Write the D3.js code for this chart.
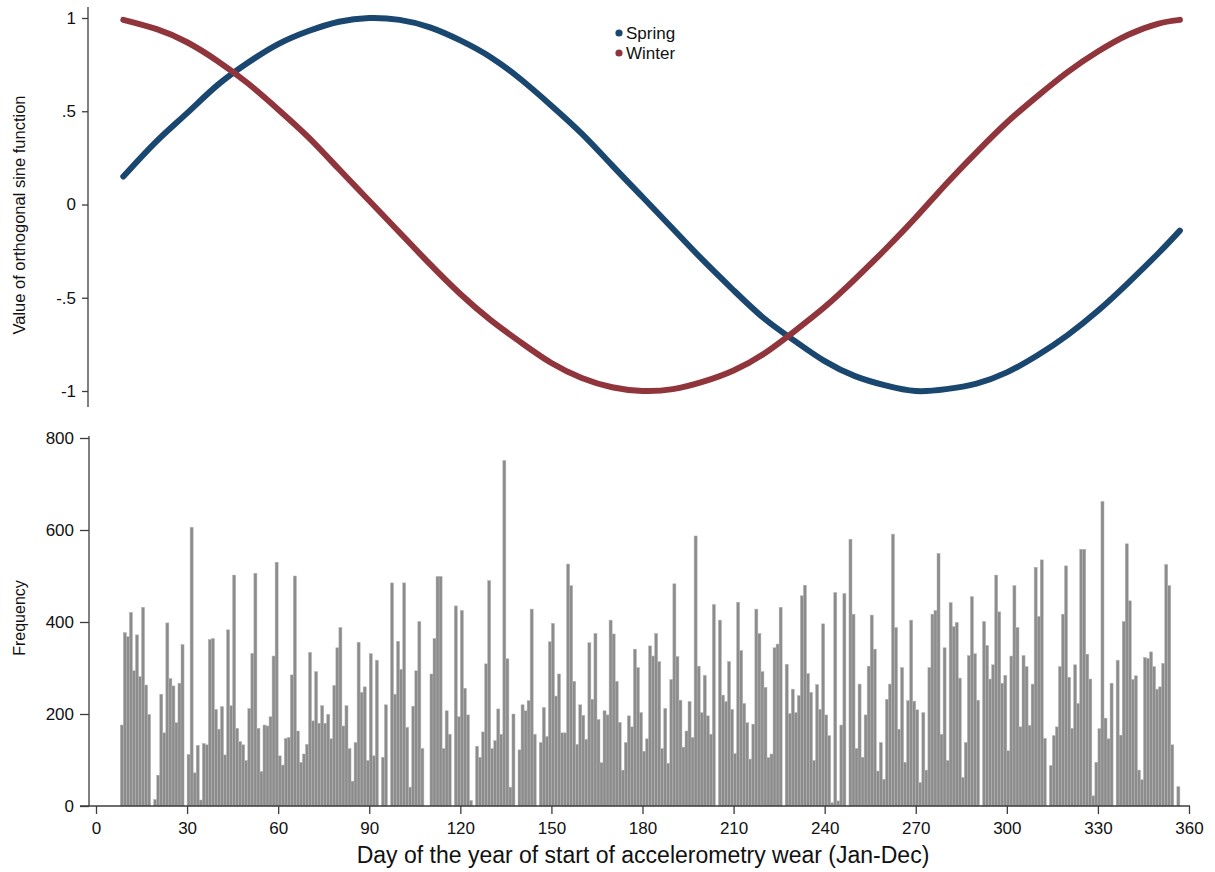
<!DOCTYPE html>
<html>
<head>
<meta charset="utf-8">
<script src="https://cdn.jsdelivr.net/npm/d3@7"></script>
<style>
    body { margin: 0; background: #fff; }
    text { font-family: 'Liberation Sans', Arial, sans-serif; }
</style>
</head>
<body>
<div id="vis"></div>
<script>
// first day that has a bar in the histogram
const firstDay = 8;

// number of accelerometer starts per day of year (days 8..356)
const dayCounts = [
    176, 377, 368, 421, 294, 372, 281, 432, 263, 199,
    0, 14, 67, 243, 159, 398, 277, 261, 181, 267,
    351, 0, 112, 606, 72, 132, 13, 136, 133, 362,
    364, 210, 167, 216, 111, 383, 218, 502, 169, 140,
    133, 99, 212, 332, 506, 169, 75, 176, 174, 194,
    326, 530, 109, 89, 147, 149, 285, 500, 163, 95,
    113, 134, 334, 185, 292, 180, 218, 180, 199, 146,
    262, 344, 388, 174, 218, 125, 54, 138, 356, 247,
    259, 99, 331, 109, 317, 0, 106, 220, 0, 485,
    243, 358, 297, 485, 171, 41, 217, 294, 401, 125,
    0, 0, 287, 364, 499, 499, 125, 207, 156, 0,
    435, 194, 425, 256, 198, 12, 0, 130, 106, 161,
    309, 490, 125, 142, 211, 156, 751, 320, 41, 200,
    0, 122, 220, 207, 229, 428, 156, 0, 138, 214,
    151, 357, 397, 239, 287, 159, 159, 526, 479, 271,
    134, 220, 197, 145, 355, 232, 375, 188, 94, 207,
    198, 404, 374, 271, 182, 78, 138, 196, 172, 341,
    301, 203, 119, 146, 348, 326, 375, 314, 125, 212,
    93, 275, 483, 325, 230, 128, 163, 227, 149, 587,
    304, 203, 284, 196, 156, 438, 0, 404, 241, 227,
    314, 210, 114, 443, 338, 223, 181, 102, 178, 428,
    375, 292, 258, 105, 113, 344, 352, 432, 0, 308,
    201, 254, 203, 240, 457, 480, 288, 247, 99, 264,
    210, 396, 198, 153, 7, 464, 11, 176, 462, 0,
    580, 417, 125, 265, 106, 198, 304, 415, 341, 76,
    138, 58, 232, 265, 591, 388, 167, 301, 95, 229,
    404, 228, 209, 51, 203, 78, 301, 417, 425, 549,
    156, 344, 99, 442, 390, 399, 278, 62, 138, 327,
    455, 331, 230, 0, 401, 349, 276, 307, 502, 422,
    267, 284, 120, 326, 479, 388, 172, 327, 303, 175,
    265, 519, 412, 535, 147, 0, 88, 153, 172, 303,
    417, 522, 280, 169, 307, 223, 558, 558, 330, 276,
    22, 95, 168, 662, 191, 146, 267, 0, 317, 154,
    401, 570, 446, 275, 283, 78, 57, 323, 321, 335,
    303, 254, 259, 310, 525, 479, 133, 0, 42
];

// orthogonal sine terms
const curveDays = [9, 20, 30, 40, 50, 60, 70, 80, 90, 100, 110, 120, 130, 140, 150, 160, 170, 180,
    190, 200, 210, 220, 230, 240, 250, 260, 270, 280, 290, 300, 310, 320, 330, 340, 350, 357];
const springValues = [0.15, 0.34, 0.49, 0.64, 0.76, 0.86, 0.93, 0.98, 1.0, 0.99, 0.95, 0.88, 0.79, 0.67,
    0.53, 0.38, 0.21, 0.04, -0.13, -0.30, -0.46, -0.61, -0.73, -0.84, -0.92, -0.97, -1.0, -0.99,
    -0.96, -0.90, -0.81, -0.70, -0.57, -0.42, -0.26, -0.14];
const winterValues = [0.99, 0.94, 0.87, 0.77, 0.65, 0.51, 0.36, 0.19, 0.02, -0.15, -0.32, -0.48, -0.62,
    -0.74, -0.85, -0.93, -0.98, -1.0, -0.99, -0.95, -0.89, -0.80, -0.68, -0.55, -0.40, -0.24, -0.07,
    0.11, 0.28, 0.44, 0.58, 0.71, 0.82, 0.91, 0.97, 0.99];

const seriesNames = ['Spring', 'Winter'];
const seriesColors = ['#1a476f', '#90353b'];

const xTicks = [0, 30, 60, 90, 120, 150, 180, 210, 240, 270, 300, 330, 360];
const sineTicks = [-1, -0.5, 0, 0.5, 1];
const sineTickLabels = ['-1', '-.5', '0', '.5', '1'];
const freqTicks = [0, 200, 400, 600, 800];

const width = 1215;
const height = 872;

const svg = d3.select('#vis')
    .append('svg')
    .attr('width', width)
    .attr('height', height);

const x = d3.scaleLinear().domain([0, 360]).range([96, 1189]);
const ySine = d3.scaleLinear().domain([-1, 1]).range([391, 18]);
const yFreq = d3.scaleLinear().domain([0, 800]).range([806, 438]);

renderSinePanel();
renderHistogram();

function renderSinePanel() {
    const g = svg.append('g');

    // y axis, line runs a bit past the ticks like in stata
    g.append('line')
        .attr('x1', 88).attr('x2', 88)
        .attr('y1', 7).attr('y2', 407)
        .attr('stroke', '#3c3c3c')
        .attr('stroke-width', 1.3);

    const axis = d3.axisLeft(ySine)
        .tickValues(sineTicks)
        .tickFormat((d, i) => sineTickLabels[i])
        .tickSize(6)
        .tickPadding(6);

    const ax = g.append('g')
        .attr('transform', 'translate(88,0)')
        .call(axis);
    styleAxis(ax);

    g.append('text')
        .attr('transform', 'translate(21,215) rotate(-90)')
        .attr('text-anchor', 'middle')
        .attr('dominant-baseline', 'middle')
        .attr('font-size', '16.5px')
        .attr('fill', '#111')
        .text('Value of orthogonal sine function');

    const values = [springValues, winterValues];
    for (var s = 0; s < seriesNames.length; s++) {
        const pts = curveDays.map((d, i) => [d, values[s][i]]);
        const line = d3.line()
            .x(p => x(p[0]))
            .y(p => ySine(p[1]))
            .curve(d3.curveNatural);

        g.append('path')
            .attr('d', line(pts))
            .attr('fill', 'none')
            .attr('stroke', seriesColors[s])
            .attr('stroke-width', 6)
            .attr('stroke-linecap', 'round');
    }

    // legend
    for (var i = 0; i < seriesNames.length; i++) {
        g.append('circle')
            .attr('cx', 619)
            .attr('cy', 33 + i * 20)
            .attr('r', 3.6)
            .attr('fill', seriesColors[i]);

        g.append('text')
            .attr('x', 626)
            .attr('y', 33 + i * 20)
            .attr('dominant-baseline', 'central')
            .attr('font-size', '17px')
            .attr('fill', '#111')
            .text(seriesNames[i]);
    }
}

function renderHistogram() {
    const g = svg.append('g');
    const bars = dayCounts.map((v, i) => ({ day: firstDay + i, count: v }));

    g.selectAll('rect.bar')
        .data(bars.filter(b => b.count > 0))
        .join('rect')
        .attr('class', 'bar')
        .attr('x', b => x(b.day))
        .attr('width', b => x(b.day + 1) - x(b.day))
        .attr('y', b => yFreq(b.count))
        .attr('height', b => yFreq(0) - yFreq(b.count))
        .attr('fill', '#8c8c8c')
        .attr('stroke', '#b4b4b4')
        .attr('stroke-width', 0.5);

    // y axis
    g.append('line')
        .attr('x1', 89).attr('x2', 89)
        .attr('y1', 436).attr('y2', 806)
        .attr('stroke', '#3c3c3c')
        .attr('stroke-width', 1.3);

    const yAxis = d3.axisLeft(yFreq)
        .tickValues(freqTicks)
        .tickSize(9)
        .tickPadding(6);
    const ay = g.append('g')
        .attr('transform', 'translate(89,0)')
        .call(yAxis);
    styleAxis(ay);

    // x axis
    g.append('line')
        .attr('x1', 80).attr('x2', 1190)
        .attr('y1', 806).attr('y2', 806)
        .attr('stroke', '#3c3c3c')
        .attr('stroke-width', 1.3);

    const xAxis = d3.axisBottom(x)
        .tickValues(xTicks)
        .tickSize(8)
        .tickPadding(8);
    const axx = g.append('g')
        .attr('transform', 'translate(0,806)')
        .call(xAxis);
    styleAxis(axx);

    g.append('text')
        .attr('transform', 'translate(21,618) rotate(-90)')
        .attr('text-anchor', 'middle')
        .attr('dominant-baseline', 'middle')
        .attr('font-size', '16px')
        .attr('fill', '#111')
        .text('Frequency');

    g.append('text')
        .attr('x', 643)
        .attr('y', 857)
        .attr('text-anchor', 'middle')
        .attr('dominant-baseline', 'middle')
        .attr('font-size', '23px')
        .attr('fill', '#111')
        .text('Day of the year of start of accelerometry wear (Jan-Dec)');
}

function styleAxis(ax) {
    ax.select('.domain').remove();
    ax.selectAll('.tick line')
        .attr('stroke', '#3c3c3c')
        .attr('stroke-width', 1.3);
    ax.selectAll('.tick text')
        .attr('font-family', "'Liberation Sans', Arial, sans-serif")
        .attr('font-size', '17px')
        .attr('fill', '#111');
}
</script>
</body>
</html>
